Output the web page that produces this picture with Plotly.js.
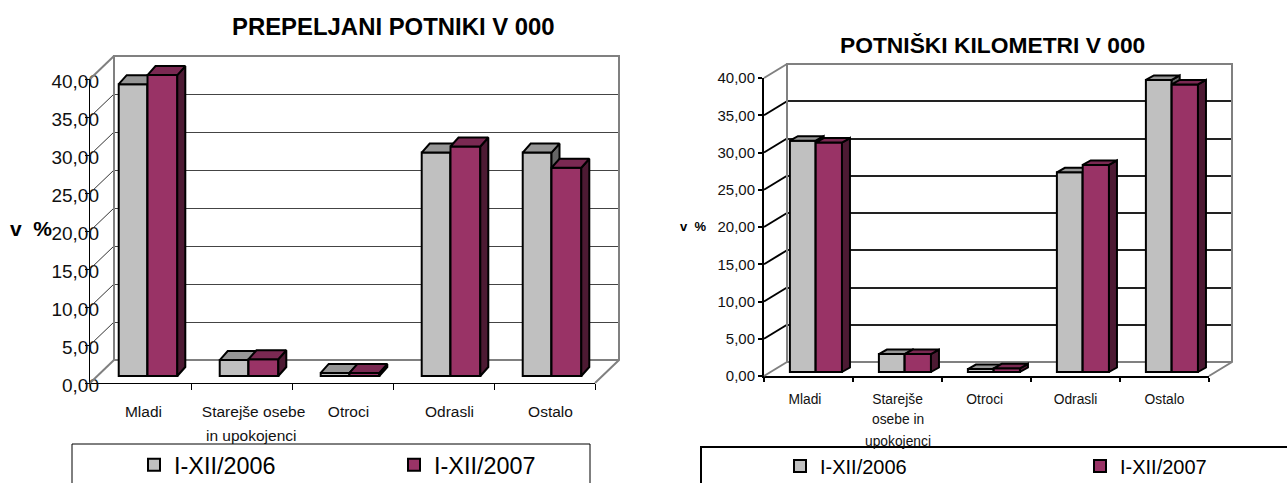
<!DOCTYPE html>
<html><head><meta charset="utf-8">
<script src="https://cdn.plot.ly/plotly-3.0.1.min.js"></script>
<style>html,body{margin:0;padding:0;background:#fff;overflow:hidden}</style>
</head><body><div id="chart" style="width:1287px;height:483px"></div>
<script>
const categoriesL = ['Mladi','Starejše osebe','Otroci','Odrasli','Ostalo'];
const extraLinesL = [[],['in upokojenci'],[],[],[]];
const categoriesR = ['Mladi','Starejše','Otroci','Odrasli','Ostalo'];
const extraLinesR = [[],['osebe in','upokojenci'],[],[],[]];
const series = ['I-XII/2006','I-XII/2007'];
const passengers2006 = [38.4,2.1,0.4,29.4,29.4];
const passengers2007 = [39.6,2.2,0.4,30.2,27.4];
const kilometres2006 = [31.05,2.4,0.4,26.8,39.2];
const kilometres2007 = [30.8,2.4,0.5,27.8,38.6];

const W=1287,H=483,FONT='"Liberation Sans",Arial,sans-serif';
const fx=p=>p/W, fy=p=>1-p/H;
const GREY={front:'#C0C0C0',top:'#969696',side:'#666666'};
const PLUM={front:'#993366',top:'#7A2952',side:'#4D1A33'};

const traces=[],layout={width:W,height:H,margin:{l:0,r:0,t:0,b:0,pad:0,autoexpand:false},paper_bgcolor:'#fff',plot_bgcolor:'rgba(0,0,0,0)',
  autosize:false,separators:',.',showlegend:true,hovermode:false,annotations:[],shapes:[],bargap:0};

function ax(n,letter){return letter+'axis'+(n===1?'':n);}
function id(n,letter){return letter+(n===1?'':n);}

function chart(c,n){
  const w=(c.wall.x1-c.wall.x0)/5, s=(c.wall.y0-c.wall.y40)/40;
  const [nBack,nG,nP,nF,nL,nD]=[n,n+1,n+2,n+3,n+4,n+5];
  const hidden={visible:false,fixedrange:true};
  // back wall with its gridlines
  layout[ax(nBack,'x')]={...hidden,range:[0,5],domain:[fx(c.wall.x0),fx(c.wall.x1)],anchor:id(nBack,'y')};
  layout[ax(nBack,'y')]={range:[0,40],domain:[fy(c.wall.y0),fy(c.wall.y40)],anchor:id(nBack,'x'),fixedrange:true,
    showgrid:true,gridcolor:c.gridColor,gridwidth:c.gridWidth,dtick:5,zeroline:true,zerolinecolor:c.wallColor,zerolinewidth:c.wallWidth,showline:false,showticklabels:false,ticks:''};
  traces.push({type:'scatter',mode:'none',x:[0],y:[0],xaxis:id(nBack,'x'),yaxis:id(nBack,'y'),showlegend:false,hoverinfo:'skip'});
  // depth frame: same scale as the wall, range wide enough to hold the side wall
  const ddx=c.depth.dx/w, ddy=c.depth.dy/s;
  const fLo=-ddx-.1, fHi=5.1, vLo=-ddy-1, vHi=42;
  layout[ax(nD,'x')]={...hidden,range:[fLo,fHi],domain:[fx(c.wall.x0+fLo*w),fx(c.wall.x0+fHi*w)],anchor:id(nD,'y')};
  layout[ax(nD,'y')]={...hidden,range:[vLo,vHi],domain:[fy(c.wall.y0-vLo*s),fy(c.wall.y0-vHi*s)],anchor:id(nD,'x')};
  const line=(xs,ys,color,width)=>traces.push({type:'scatter',mode:'lines',x:xs,y:ys,xaxis:id(nD,'x'),yaxis:id(nD,'y'),
    line:{color,width},showlegend:false,hoverinfo:'skip'});
  [5,10,15,20,25,30,35].forEach(v=>line([0,-ddx],[v,v-ddy],c.diagColor,c.gridWidth));
  line([0,-ddx],[40,40-ddy],c.wallColor,c.wallWidth);
  line([0,-ddx],[0,-ddy],c.wallColor,c.wallWidth);
  line([0,0,5,5,5-ddx],[0,40,40,0,-ddy],c.wallColor,c.wallWidth);

  // bars plane
  const bw=(c.bars.x1-c.bars.x0)/5, top=44, bot=-2;
  const bdx=c.bars.dx/bw, bdy=c.bars.dy/s;
  layout[ax(nG,'x')]={...hidden,range:[-.5,4.5],domain:[fx(c.bars.x0),fx(c.bars.x1)],anchor:id(nG,'y')};
  layout[ax(nG,'y')]={...hidden,range:[bot,top],domain:[fy(c.bars.y0-bot*s),fy(c.bars.y0-top*s)],anchor:id(nG,'x')};
  layout[ax(nP,'x')]={...hidden,range:[-.5,4.5],overlaying:id(nG,'x'),anchor:id(nP,'y')};
  layout[ax(nP,'y')]={...hidden,range:[bot,top],overlaying:id(nG,'y'),anchor:id(nP,'x')};
  const bar=(vals,name,col,nn,offset,width,legend)=>{
    const xa=id(nn,'x'),ya=id(nn,'y');
    traces.push({type:'bar',x:[0,1,2,3,4],y:vals,name,width,offset,xaxis:xa,yaxis:ya,cliponaxis:false,legend,
      marker:{color:col.front,line:{color:'#000',width:c.barLine}},hoverinfo:'skip'});
    const side={x:[],y:[]},topF={x:[],y:[]};
    vals.forEach((v,i)=>{
      const l=i+offset,r=i+offset+width;
      side.x.push(r,r+bdx,r+bdx,r,r,null); side.y.push(0,bdy,v+bdy,v,0,null);
      topF.x.push(l,l+bdx,r+bdx,r,l,null); topF.y.push(v,v+bdy,v+bdy,v,v,null);
    });
    [[side,col.side],[topF,col.top]].forEach(([p,f])=>traces.push({type:'scatter',mode:'lines',x:p.x,y:p.y,fill:'toself',fillcolor:f,
      line:{color:'#000',width:c.barLine},xaxis:xa,yaxis:ya,showlegend:false,hoverinfo:'skip'}));
  };
  bar(c.a,series[0],GREY,nG,-c.bars.wa,c.bars.wa,c.legendId);
  bar(c.b,series[1],PLUM,nP,0,c.bars.wb,c.legendId);

  // front plane: axis lines and tick marks
  const fx0=c.wall.x0-c.depth.dx, fy0=c.wall.y0+c.depth.dy;
  layout[ax(nF,'x')]={range:[0,5],domain:[fx(fx0),fx(fx0+5*w)],anchor:id(nF,'y'),fixedrange:true,showline:true,linecolor:'#000',linewidth:c.axisWidth,
    tickmode:'array',tickvals:[0,1,2,3,4,5],ticks:'outside',ticklen:c.tickLen,tickcolor:'#000',tickwidth:c.axisWidth,showticklabels:false,showgrid:false,zeroline:false};
  layout[ax(nF,'y')]={range:[0,40],domain:[fy(fy0),fy(fy0-40*s)],anchor:id(nF,'x'),fixedrange:true,showline:true,linecolor:'#000',linewidth:c.axisWidth,
    dtick:5,ticks:'outside',ticklen:4,tickcolor:'#000',tickwidth:c.axisWidth,showticklabels:false,showgrid:false,zeroline:false};
  traces.push({type:'scatter',mode:'none',x:[0],y:[0],xaxis:id(nF,'x'),yaxis:id(nF,'y'),showlegend:false,hoverinfo:'skip'});

  // text plane: tick labels
  const lx0=fx0+c.label.dx;
  const tickvals=c.cats.map((_,i)=>i+.5+c.label.nudge[i]);
  layout[ax(nL,'x')]={range:[0,5],domain:[fx(lx0),fx(lx0+5*w)],anchor:id(nL,'y'),fixedrange:true,showline:false,showgrid:false,zeroline:false,
    tickmode:'array',tickvals,ticktext:c.cats,ticks:'',ticklabelstandoff:c.label.standoff,tickfont:{family:FONT,size:c.catSize,color:'#111'}};
  layout[ax(nL,'y')]={range:[0,40],domain:[fy(fy0+c.label.dy),fy(fy0+c.label.dy-40*s)],anchor:'free',position:fx(c.label.yRight),fixedrange:true,
    showline:false,showgrid:false,zeroline:false,dtick:5,tickformat:'.2f',ticks:'',tickfont:{family:FONT,size:c.valSize,color:'#111'}};
  traces.push({type:'scatter',mode:'none',x:[0],y:[0],xaxis:id(nL,'x'),yaxis:id(nL,'y'),showlegend:false,hoverinfo:'skip'});
  c.extra.forEach((lines,i)=>lines.forEach((t,j)=>layout.annotations.push({text:t,showarrow:false,xref:id(nL,'x'),x:tickvals[i]+c.label.extraNudge,
    yref:'paper',y:fy(c.label.firstLine+(j+1)*c.label.gap),yanchor:'middle',xanchor:'center',font:{family:FONT,size:c.catSize,color:'#111'}})));
  layout.annotations.push({text:'<b>'+c.title+'</b>',showarrow:false,xref:'paper',yref:'paper',x:fx(c.titleX),y:fy(c.titleY),xanchor:'center',yanchor:'middle',
    font:{family:FONT,size:c.titleSize,color:'#000'}});
  layout.annotations.push({text:'<b>v  %</b>',showarrow:false,xref:'paper',yref:'paper',x:fx(c.unitX),y:fy(c.unitY),xanchor:'center',yanchor:'middle',
    font:{family:FONT,size:c.unitSize,color:'#000'}});
  const b=c.box, path=`M${fx(b.x0)},-0.05 L${fx(b.x0)},${fy(b.y)} L${fx(b.x1)},${fy(b.y)}`+(b.closeRight?` L${fx(b.x1)},-0.05`:'');
  layout.shapes.push({type:'path',xref:'paper',yref:'paper',path,line:{color:'#000',width:b.width}});
  layout[c.legendId]={x:fx(c.leg.x),y:fy(c.leg.y),xanchor:'left',yanchor:'middle',orientation:'h',entrywidth:c.leg.entry,entrywidthmode:'pixels',
    font:{family:FONT,size:c.leg.size,color:'#000'},bgcolor:'rgba(0,0,0,0)',borderwidth:0,itemclick:false,itemdoubleclick:false};
}

chart({cats:categoriesL,extra:extraLinesL,a:passengers2006,b:passengers2007,title:'PREPELJANI POTNIKI V 000',titleX:393,titleY:27,titleSize:23.9,
  unitX:31,unitY:228,unitSize:21,catSize:15.5,valSize:19,
  wall:{x0:114,x1:619,y0:360,y40:56},depth:{dx:24,dy:23},gridColor:'#444',gridWidth:1,diagColor:'#333',wallColor:'#808080',wallWidth:2,axisWidth:1,tickLen:6,barLine:2,
  bars:{x0:97,x1:602,y0:376,dx:8,dy:9,wa:.285,wb:.295},
  label:{dx:6,nudge:[-.03,.06,0,0,0],extraNudge:-.03,standoff:15,dy:2,yRight:99,firstLine:410,gap:25},
  box:{x0:72,x1:590,y:444,width:1,closeRight:true},
  legendId:'legend',leg:{x:134,y:465,entry:215,size:23.4}},1);

chart({cats:categoriesR,extra:extraLinesR,a:kilometres2006,b:kilometres2007,title:'POTNIŠKI KILOMETRI V 000',titleX:992,titleY:45,titleSize:22.8,
  unitX:693,unitY:227,unitSize:13,catSize:13.8,valSize:15,
  wall:{x0:787,x1:1232,y0:362,y40:64},depth:{dx:23,dy:14},gridColor:'#222',gridWidth:2,diagColor:'#000',wallColor:'#808080',wallWidth:2,axisWidth:2,tickLen:4,barLine:2,
  bars:{x0:771.2,x1:1216.2,y0:372,dx:8,dy:4.5,wa:.29,wb:.295},
  label:{dx:0,nudge:[-.04,0,-.02,0,0],extraNudge:0,standoff:13,dy:0,yRight:755,firstLine:397,gap:22},
  box:{x0:701,x1:1290,y:447,width:2,closeRight:false},
  legendId:'legend2',leg:{x:780,y:466,entry:255,size:20}},7);

Plotly.newPlot('chart',traces,layout,{displayModeBar:false,staticPlot:true});
</script></body></html>
